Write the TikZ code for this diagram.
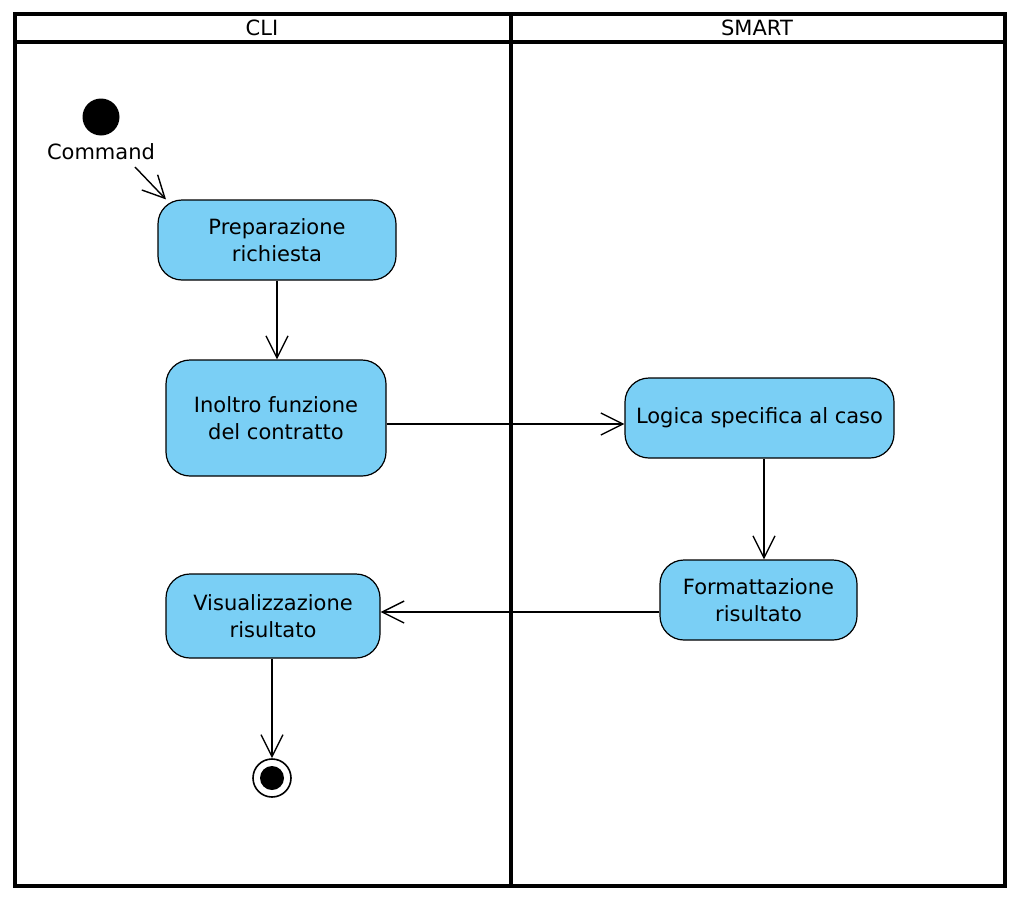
\documentclass[tikz,border=0pt]{standalone}
\usepackage{fontspec}
\setmainfont{DejaVu Sans}
\usetikzlibrary{arrows.meta}
\definecolor{actfill}{HTML}{7ACFF5}
\begin{document}
\begin{tikzpicture}[x=1pt,y=-1pt,
  frame/.style={line width=3.4pt},
  act/.style={draw, line width=1.2pt, fill=actfill, rounded corners=24pt, align=center, inner sep=0pt, font=\fontsize{21}{27.5}\selectfont},
  flow/.style={line width=1.4pt, -{Straight Barb[length=22pt,width=22pt,line width=1.4pt]}},
  hdr/.style={font=\fontsize{21}{22}\selectfont}]
\useasboundingbox (0,0) rectangle (1022,902);
% swimlanes
\draw[frame] (15,14) rectangle (1005,886);
\draw[frame] (15,42) -- (1005,42);
\draw[frame] (511,14) -- (511,886);
\node[hdr] (hcli) at (262,28) {CLI};
\node[hdr] (hsmart) at (757,28) {SMART};
% start
\node[circle, fill=black, minimum size=37pt, inner sep=0pt] (start) at (101,117) {};
\node[font=\fontsize{21}{22}\selectfont] (cmd) at (101,152) {Command};
\coordinate (cmdout) at (135,167);
% activities
\node[act, minimum width=238pt, minimum height=80pt] (prep) at (277,240) {Preparazione\\richiesta};
\node[act, minimum width=220pt, minimum height=116pt] (inol) at (276,418) {Inoltro funzione\\del contratto};
\node[act, minimum width=269pt, minimum height=80pt] (logi) at (759.5,418) {Logica specifica al caso};
\node[act, minimum width=197pt, minimum height=80pt] (form) at (758.5,600) {Formattazione\\risultato};
\node[act, minimum width=214pt, minimum height=84pt] (visu) at (273,616) {Visualizzazione\\risultato};
% end
\node[circle, draw, line width=1.6pt, fill=white, minimum size=38pt, inner sep=0pt] (endo) at (272,778) {};
\node[circle, fill=black, minimum size=24pt, inner sep=0pt] (endi) at (272,778) {};
% flows
\draw[flow] (cmdout) -- (prep.north west -| 166,210);
\draw[flow] (prep.south) -- (prep.south |- inol.north);
\draw[flow] (inol.east |- 0,424) -- (logi.west |- 0,424);
\draw[flow] (logi.south -| 764,0) -- (form.north -| 764,0);
\draw[flow] (form.west |- 0,612) -- (visu.east |- 0,612);
\draw[flow] (visu.south -| 272,0) -- (endo.north);
\end{tikzpicture}
\end{document}
